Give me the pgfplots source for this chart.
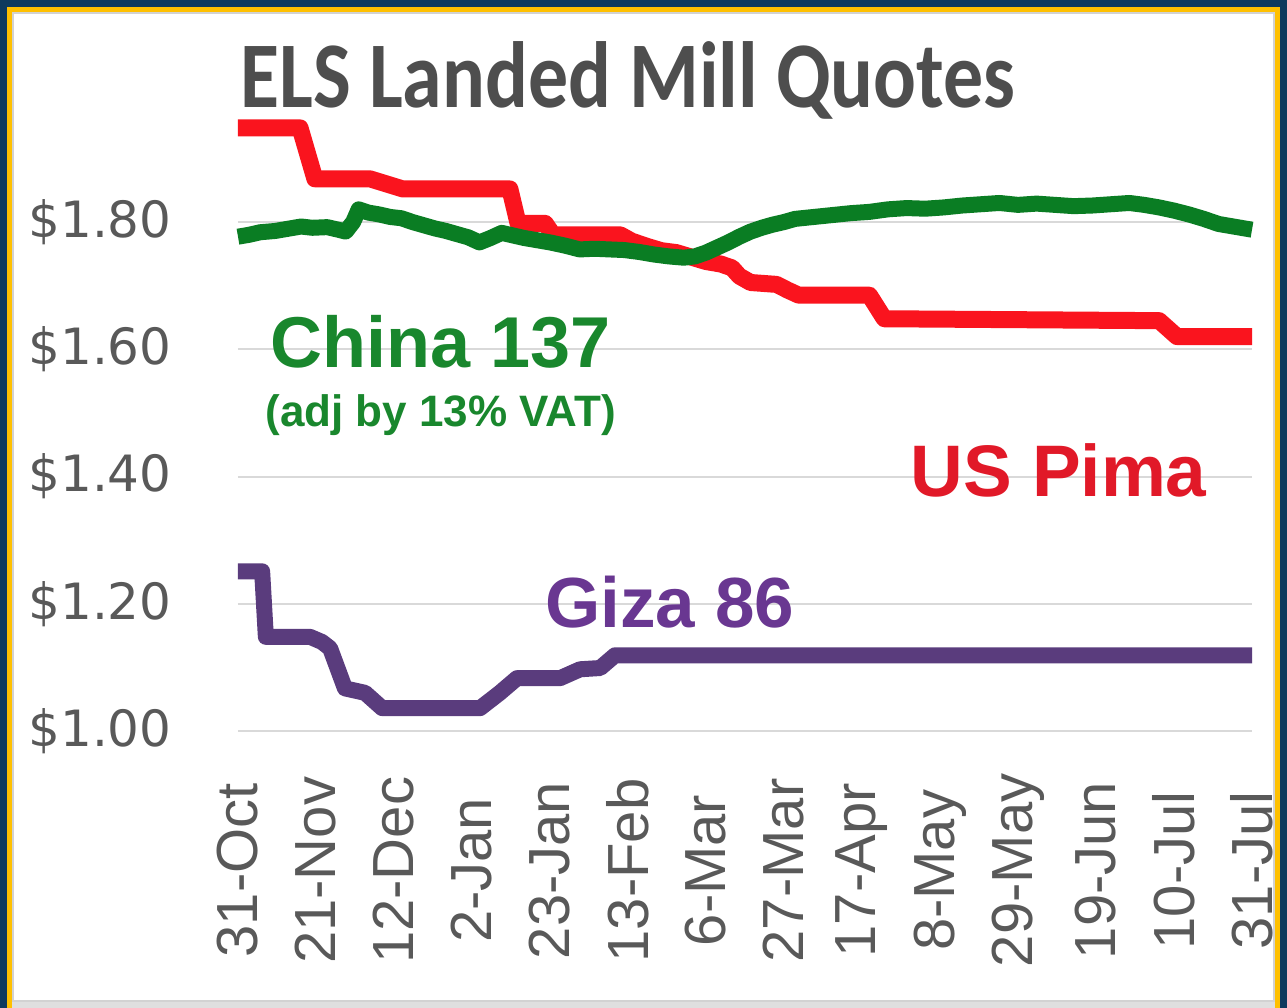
\documentclass[border=0pt]{standalone}
\usepackage{pgfplots}
\pgfplotsset{compat=1.18}
\usepackage{fontspec}
\setmainfont{Liberation Sans}
\newfontfamily\djv{DejaVu Sans}
\newfontfamily\ttl[FakeStretch=0.85]{Carlito}
\definecolor{navy}{RGB}{14,58,94}
\definecolor{gold}{RGB}{255,192,0}
\definecolor{lgreen}{RGB}{10,125,35}
\definecolor{tgreen}{RGB}{25,135,45}
\definecolor{lred}{RGB}{250,20,30}
\definecolor{tred}{RGB}{225,25,40}
\definecolor{lpurple}{RGB}{90,60,125}
\definecolor{tpurple}{RGB}{105,55,145}
\definecolor{txtgray}{RGB}{89,89,89}
\definecolor{ttlgray}{RGB}{78,78,78}
\definecolor{gridgray}{RGB}{217,217,217}
\begin{document}
\begin{tikzpicture}
% frame
\fill[navy] (0,0) rectangle (643.5pt,504pt);
\fill[gold] (3.5pt,0pt) rectangle (640pt,500.5pt);
\fill[white] (6pt,3pt) rectangle (637.5pt,498pt);
\draw[gray!35,line width=1.2pt] (6.6pt,3.6pt) rectangle (636.9pt,497.4pt);
\fill[gray!25] (6pt,0pt) rectangle (637.5pt,3pt);
\begin{axis}[
  at={(119pt,138.5pt)}, anchor=south west,
  scale only axis, width=507pt, height=308.55pt,
  xmin=0, xmax=273, ymin=1.0, ymax=1.97,
  clip=false,
  axis line style={draw=none},
  tick style={draw=none},
  ymajorgrids,
  major grid style={gridgray, line width=1pt},
  ytick={1.0,1.2,1.4,1.6,1.8},
  yticklabels={\$1.00,\$1.20,\$1.40,\$1.60,\$1.80},
  yticklabel style={font=\djv\fontsize{25pt}{25pt}\selectfont, text=txtgray, inner sep=0pt, anchor=east, xshift=-33pt},
  xtick={0,21,42,63,84,105,126,147,168,189,210,231,252,273},
  xticklabels={31-Oct,21-Nov,12-Dec,2-Jan,23-Jan,13-Feb,6-Mar,27-Mar,17-Apr,8-May,29-May,19-Jun,10-Jul,31-Jul},
  xticklabel style={font=\fontsize{29pt}{29pt}\selectfont, text=txtgray, rotate=90, anchor=east, inner sep=0pt, text width=139pt, align=center},
  every axis plot/.append style={line join=round},
]
% US Pima
\addplot[lred, line width=8.5pt] coordinates {
(0,1.948) (16.7,1.948) (20.7,1.868) (35.5,1.868) (44.4,1.852) (73.2,1.852)
(75.4,1.798) (82.7,1.798) (84.8,1.780) (102.9,1.780) (106,1.770) (110,1.762)
(114,1.755) (118,1.752) (122,1.745) (126,1.738) (130,1.734) (133,1.728)
(135,1.715) (138,1.705) (145,1.702) (148,1.693) (151,1.685) (170,1.685)
(174,1.648) (248,1.645) (252.8,1.620) (273,1.620)
};
% China 137
\addplot[lgreen, line width=8pt] coordinates {
(0,1.777) (3,1.780) (6,1.784) (10,1.786) (14,1.790) (17,1.793) (20,1.791)
(24,1.792) (27,1.788) (29,1.785) (31,1.800) (32.5,1.820) (35,1.815) (38,1.812)
(41,1.808) (44,1.806) (47,1.800) (50,1.795) (53,1.790) (56,1.786) (59,1.781)
(62,1.776) (65,1.768) (68,1.775) (71,1.783) (74,1.779) (77,1.775) (80,1.772)
(84,1.768) (88,1.763) (92,1.757) (96,1.758) (100,1.757) (104,1.756) (108,1.753)
(112,1.749) (116,1.746) (120,1.744) (123,1.746) (126,1.752) (129,1.760)
(132,1.768) (135,1.777) (138,1.785) (141,1.791) (144,1.796) (147,1.800)
(150,1.805) (155,1.808) (160,1.811) (165,1.814) (170,1.816) (175,1.820)
(180,1.822) (185,1.821) (190,1.823) (195,1.826) (200,1.828) (205,1.830)
(210,1.827) (215,1.829) (220,1.827) (225,1.825) (230,1.826) (235,1.828)
(240,1.830) (244,1.827) (248,1.823) (252,1.818) (256,1.812) (260,1.805)
(264,1.797) (268,1.793) (273,1.788)
};
% Giza 86
\addplot[lpurple, line width=8pt] coordinates {
(0,1.251) (6.5,1.251) (7.5,1.148) (19.4,1.148) (22.6,1.140) (24.8,1.130)
(28.8,1.067) (34.2,1.060) (38.8,1.036) (65.2,1.036) (70.5,1.060) (75.1,1.083)
(86.7,1.083) (92.1,1.097) (97.5,1.099) (101.5,1.119) (273,1.119)
};
\end{axis}
% title
\node[anchor=base west, inner sep=0pt, text=ttlgray, font=\ttl\bfseries\fontsize{47pt}{47pt}\selectfont] at (120pt,450pt) {ELS Landed Mill Quotes};
% series labels
\node[anchor=base west, inner sep=0pt, text=tgreen, font=\bfseries\fontsize{36pt}{36pt}\selectfont] at (135pt,320pt) {China 137};
\node[anchor=base west, inner sep=0pt, text=tgreen, font=\bfseries\fontsize{22pt}{22pt}\selectfont] at (132.5pt,290.5pt) {(adj by 13\% VAT)};
\node[anchor=base west, inner sep=0pt, text=tred, font=\bfseries\fontsize{36.5pt}{36.5pt}\selectfont] at (455pt,255.5pt) {US Pima};
\node[anchor=base west, inner sep=0pt, text=tpurple, font=\bfseries\fontsize{35.5pt}{35.5pt}\selectfont] at (272.5pt,190pt) {Giza 86};
\pgfresetboundingbox
\path[use as bounding box] (0,0) rectangle (643.5pt,504pt);
\end{tikzpicture}
\end{document}
